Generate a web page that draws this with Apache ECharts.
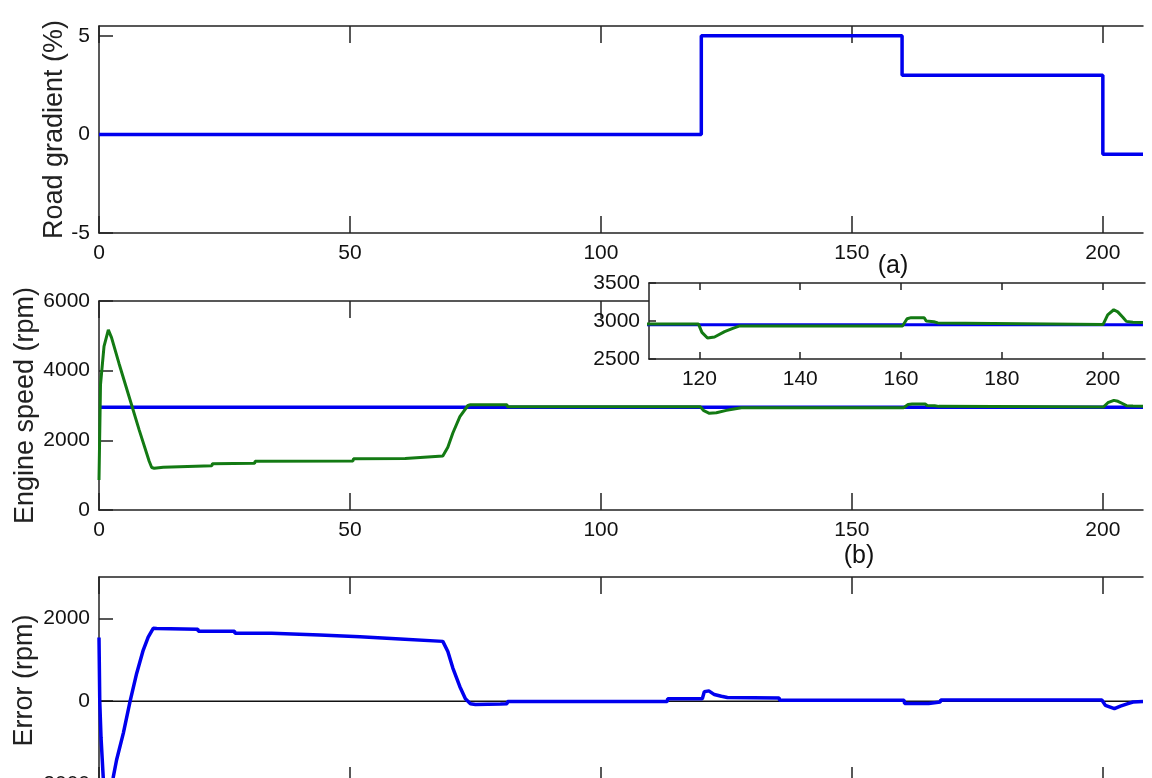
<!DOCTYPE html>
<html>
<head>
<meta charset="utf-8">
<script src="https://cdn.jsdelivr.net/npm/echarts@6/dist/echarts.min.js"></script>
<style>html,body{margin:0;padding:0;background:#fff;}#c{width:1152px;height:778px;}</style>
</head>
<body>
<div id="c"></div>
<script>
// ---- data ----
const xTicks = [0, 50, 100, 150, 200];
const insetXTicks = [120, 140, 160, 180, 200];

// (a) road gradient, step changes
const gradT = [0, 120, 160, 200, 208];
const gradV = [0, 5, 3, -1, -1];

// (b) engine speed reference (blue)
const refT = [0, 208];
const refV = [2950, 2950];

// (b) engine speed actual (green)
const spdT = [0, 0.3, 1.0, 1.86, 2.5, 4, 6, 8, 10, 10.5, 11, 12.8, 12.9, 22.5, 22.6, 31, 31.1, 50.6, 50.7, 61, 61.1, 68.5, 69.5, 70.5, 71.9, 73.5, 74, 81.3, 81.4, 119.8, 120.5, 121.6, 123, 125, 126.5, 128, 160.3, 161.2, 162, 164.6, 165, 166.5, 167.3, 167.4, 200.1, 201, 202.2, 203, 204, 204.7, 206, 208];
const spdV = [860, 3600, 4700, 5170, 4950, 4200, 3250, 2300, 1400, 1220, 1200, 1230, 1270, 1270, 1330, 1340, 1400, 1410, 1470, 1475, 1530, 1550, 1800, 2210, 2680, 3000, 3020, 3020, 2962, 2962, 2850, 2776, 2790, 2860, 2900, 2935, 2935, 3030, 3044, 3044, 3000, 2990, 2975, 2955, 2955, 3080, 3148, 3120, 3050, 2995, 2985, 2980];

// (c) error
const errT = [0, 0.15, 0.4, 0.85, 1.86, 2.8, 3.5, 4.85, 6.2, 7.5, 8.8, 9.8, 10.8, 11.5, 19.7, 19.8, 27, 27.1, 34.4, 34.5, 44, 44.1, 52, 52.1, 60, 60.1, 68.5, 69.5, 70.5, 71.9, 73, 74, 75, 80, 81.3, 81.4, 113.2, 113.3, 120.2, 120.6, 121.5, 122.6, 124, 125.2, 135.5, 135.6, 160.4, 160.5, 165.3, 165.4, 167.6, 167.7, 199.8, 200.5, 202.3, 203.5, 205, 206, 208];
const errV = [1540, 0, -870, -1860, -2250, -1860, -1420, -770, 0, 670, 1230, 1550, 1760, 1755, 1740, 1690, 1690, 1640, 1640, 1600, 1600, 1560, 1555, 1510, 1505, 1460, 1445, 1200, 800, 350, 60, -60, -80, -70, -60, -10, -10, 60, 60, 230, 250, 160, 120, 90, 80, 20, 20, -55, -55, -20, -20, 30, 30, -100, -180, -120, -60, -20, -10];
const zeroT = [0, 208];
const zeroV = [0, 0];

const pair = (t, v) => t.map((x, i) => [x, v[i]]);

const BLUE = '#0000ee';
const GREEN = '#137a13';
const AX = '#222';
const labelFont = "'Liberation Sans', Arial, sans-serif";
const nameFont = "'Liberation Sans', Arial, sans-serif";
const plain = v => String(v);

function xAx(grid, pos, min, max, ticks, tickLen, showLabel, z) {
  return {
    type: 'value', gridIndex: grid, position: pos, min: min, max: max, z: z || 0,
    axisLine: { show: true, onZero: false, lineStyle: { color: AX, width: 1.5 } },
    axisTick: { show: true, inside: true, length: tickLen, customValues: ticks, lineStyle: { color: AX, width: 1.5 } },
    axisLabel: { show: showLabel, customValues: ticks, formatter: plain, margin: 10, color: '#111', fontSize: 21, fontFamily: labelFont },
    splitLine: { show: false }
  };
}
function yAx(grid, min, max, ticks, tickLen, name, gap, z) {
  return {
    type: 'value', gridIndex: grid, min: min, max: max, z: z || 0,
    name: name, nameLocation: 'middle', nameGap: gap, nameMoveOverlap: false,
    nameTextStyle: { fontSize: 27, fontFamily: nameFont, color: '#222' },
    axisLine: { show: true, onZero: false, lineStyle: { color: AX, width: 1.5 } },
    axisTick: { show: true, inside: true, length: tickLen, customValues: ticks, lineStyle: { color: AX, width: 1.5 } },
    axisLabel: { customValues: ticks, formatter: plain, margin: 9, color: '#111', fontSize: 21, fontFamily: labelFont },
    splitLine: { show: false }
  };
}

const chart = echarts.init(document.getElementById('c'), null, { renderer: 'canvas' });
chart.setOption({
  animation: false,
  backgroundColor: '#fff',
  grid: [
    { left: 99, top: 26, width: 1044, height: 207, outerBoundsMode: 'none', containLabel: false },
    { left: 99, top: 301, width: 1044, height: 209, outerBoundsMode: 'none', containLabel: false },
    { left: 99, top: 577, width: 1044, height: 207, outerBoundsMode: 'none', containLabel: false },
    { left: 649, top: 283, width: 496, height: 76, outerBoundsMode: 'none', containLabel: false, show: true, backgroundColor: '#fff', borderWidth: 0, z: 5 }
  ],
  xAxis: [
    xAx(0, 'bottom', 0, 208, xTicks, 17, true),
    xAx(0, 'top', 0, 208, xTicks, 17, false),
    xAx(1, 'bottom', 0, 208, xTicks, 17, true),
    xAx(1, 'top', 0, 208, xTicks, 17, false),
    xAx(2, 'bottom', 0, 208, xTicks, 17, true),
    xAx(2, 'top', 0, 208, xTicks, 17, false),
    xAx(3, 'bottom', 110, 208.4, insetXTicks, 7, true, 6),
    xAx(3, 'top', 110, 208.4, insetXTicks, 7, false, 6)
  ],
  yAxis: [
    yAx(0, -5, 5.5, [-5, 0, 5], 14, 'Road gradient (%)', 31),
    yAx(1, 0, 6000, [0, 2000, 4000, 6000], 14, 'Engine speed (rpm)', 60),
    yAx(2, -2000, 3000, [-2000, 0, 2000], 14, 'Error (rpm)', 61),
    Object.assign(yAx(3, 2500, 3500, [2500, 3000, 3500], 7, '', 0, 6), { name: '' })
  ],
  graphic: [
    { type: 'text', x: 893, y: 266, style: { text: '(a)', fontSize: 25, fontFamily: nameFont, fill: '#111', align: 'center', verticalAlign: 'middle' } },
    { type: 'text', x: 859, y: 556, style: { text: '(b)', fontSize: 25, fontFamily: nameFont, fill: '#111', align: 'center', verticalAlign: 'middle' } }
  ],
  series: [
    { type: 'line', name: 'Road gradient', xAxisIndex: 0, yAxisIndex: 0, data: pair(gradT, gradV), step: 'end', symbol: 'none', lineStyle: { color: BLUE, width: 3.5 } },
    { type: 'line', name: 'Reference speed', xAxisIndex: 2, yAxisIndex: 1, data: pair(refT, refV), symbol: 'none', lineStyle: { color: BLUE, width: 3.5 } },
    { type: 'line', name: 'Engine speed', xAxisIndex: 2, yAxisIndex: 1, data: pair(spdT, spdV), symbol: 'none', lineStyle: { color: GREEN, width: 3 } },
    { type: 'line', name: 'Zero', xAxisIndex: 4, yAxisIndex: 2, data: pair(zeroT, zeroV), symbol: 'none', lineStyle: { color: '#111', width: 1.5 }, z: 1 },
    { type: 'line', name: 'Error', xAxisIndex: 4, yAxisIndex: 2, data: pair(errT, errV), symbol: 'none', lineStyle: { color: BLUE, width: 3.5 } },
    { type: 'line', name: 'Reference speed (zoom)', xAxisIndex: 6, yAxisIndex: 3, data: pair(refT, refV), symbol: 'none', lineStyle: { color: BLUE, width: 3 }, z: 6 },
    { type: 'line', name: 'Engine speed (zoom)', xAxisIndex: 6, yAxisIndex: 3, data: pair(spdT, spdV), symbol: 'none', lineStyle: { color: GREEN, width: 3 }, z: 6 }
  ]
});
</script>
</body>
</html>
